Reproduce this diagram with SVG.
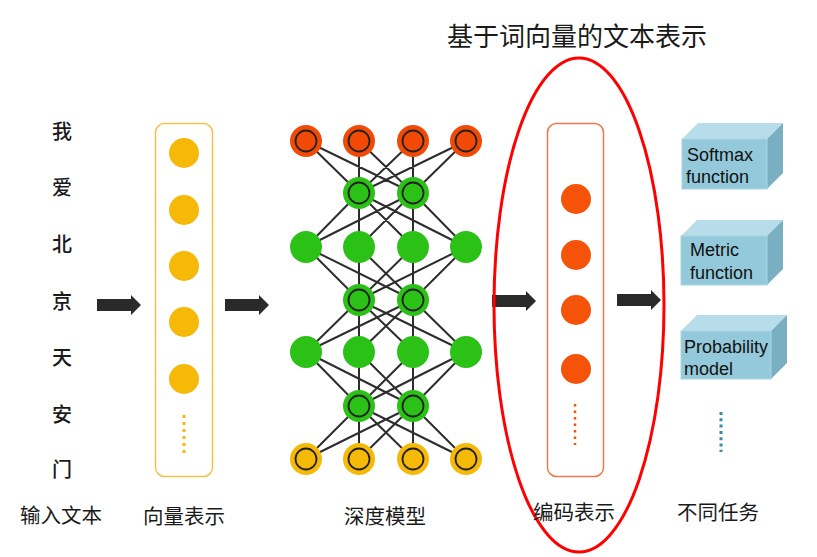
<svg xmlns="http://www.w3.org/2000/svg" width="817" height="557" viewBox="0 0 817 557">
<style>
.cjk{font-family:"Noto Sans CJK SC","Noto Sans",sans-serif;fill:#1a1a1a}
.word{font-size:20px;text-anchor:middle;font-weight:500}
.lbl{font-size:20.5px}
.en{font-family:"Liberation Sans",Arial,sans-serif;font-size:18px;fill:#111}
.red{fill:#F24A06}
.grn{fill:#2BC116}
.yel{fill:#F7B908}
.ring{fill:none;stroke:#222;stroke-width:1.8}
.edge{fill:none;stroke:#2d2d2d;stroke-width:2}
.arr{fill:#2a2a2a}
.front{fill:#93C9DB;stroke:#A9D6E4;stroke-width:1}
.top{fill:#B6DDE9}
.side{fill:#79AFC1}
</style>
<defs>
<path id="arrow" d="M0 -6 H34 V-10 L44 0 L34 10 V6 H0 Z"/>
<g id="ringnode"><circle r="16"/><circle r="10.5" class="ring"/></g>
</defs>
<rect width="817" height="557" fill="#fff"/>

<g id="title"><text class="cjk" x="577" y="46" font-size="26" text-anchor="middle">基于词向量的文本表示</text></g>

<g id="input-text">
<text class="cjk word" x="62" y="139">我</text>
<text class="cjk word" x="62" y="195">爱</text>
<text class="cjk word" x="62" y="252">北</text>
<text class="cjk word" x="62" y="309">京</text>
<text class="cjk word" x="62" y="365">天</text>
<text class="cjk word" x="62" y="422">安</text>
<text class="cjk word" x="62" y="477">门</text>
</g>

<g id="connectors">
<use href="#arrow" class="arr" x="97" y="305"/>
<use href="#arrow" class="arr" x="225" y="305"/>
<use href="#arrow" class="arr" x="492" y="301"/>
<use href="#arrow" class="arr" x="617" y="300"/>
<path class="edge" d="M306 141L359 193M306 141L413 193M359 141L359 193M359 141L413 193M413 141L359 193M413 141L413 193M466 141L359 193M466 141L413 193
M359 193L306 247M359 193L359 247M359 193L413 247M359 193L466 247M413 193L306 247M413 193L359 247M413 193L413 247M413 193L466 247
M306 247L359 300M306 247L413 300M359 247L359 300M359 247L413 300M413 247L359 300M413 247L413 300M466 247L359 300M466 247L413 300
M359 300L306 352M359 300L359 352M359 300L413 352M359 300L466 352M413 300L306 352M413 300L359 352M413 300L413 352M413 300L466 352
M306 352L359 406M306 352L413 406M359 352L359 406M359 352L413 406M413 352L359 406M413 352L413 406M466 352L359 406M466 352L413 406
M359 406L306 459M359 406L359 459M359 406L413 459M359 406L466 459M413 406L306 459M413 406L359 459M413 406L413 459M413 406L466 459"/>
</g>

<g id="vector-layer">
<rect x="155.5" y="123.5" width="57" height="353" rx="9" fill="none" stroke="#F8C24A" stroke-width="1.5"/>
<circle class="yel" cx="184" cy="153" r="15"/>
<circle class="yel" cx="184" cy="210" r="15"/>
<circle class="yel" cx="184" cy="266" r="15"/>
<circle class="yel" cx="184" cy="322" r="15"/>
<circle class="yel" cx="184" cy="379" r="15"/>
<line x1="184" y1="415" x2="184" y2="456" stroke="#F7B908" stroke-width="3" stroke-dasharray="3 4"/>
</g>

<g id="deep-model">
<use href="#ringnode" class="red" x="306" y="141"/>
<use href="#ringnode" class="red" x="359" y="141"/>
<use href="#ringnode" class="red" x="413" y="141"/>
<use href="#ringnode" class="red" x="466" y="141"/>
<use href="#ringnode" class="grn" x="359" y="193"/>
<use href="#ringnode" class="grn" x="413" y="193"/>
<circle class="grn" cx="306" cy="247" r="16"/>
<circle class="grn" cx="359" cy="247" r="16"/>
<circle class="grn" cx="413" cy="247" r="16"/>
<circle class="grn" cx="466" cy="247" r="16"/>
<use href="#ringnode" class="grn" x="359" y="300"/>
<use href="#ringnode" class="grn" x="413" y="300"/>
<circle class="grn" cx="306" cy="352" r="16"/>
<circle class="grn" cx="359" cy="352" r="16"/>
<circle class="grn" cx="413" cy="352" r="16"/>
<circle class="grn" cx="466" cy="352" r="16"/>
<use href="#ringnode" class="grn" x="359" y="406"/>
<use href="#ringnode" class="grn" x="413" y="406"/>
<use href="#ringnode" class="yel" x="306" y="459"/>
<use href="#ringnode" class="yel" x="359" y="459"/>
<use href="#ringnode" class="yel" x="413" y="459"/>
<use href="#ringnode" class="yel" x="466" y="459"/>
</g>

<g id="encoding-layer">
<rect x="547.5" y="123.5" width="56" height="353" rx="9" fill="none" stroke="#F0774E" stroke-width="1.5"/>
<circle cx="576" cy="199" r="15" fill="#F5530A"/>
<circle cx="576" cy="255" r="15" fill="#F5530A"/>
<circle cx="576" cy="310" r="15" fill="#F5530A"/>
<circle cx="576" cy="369" r="15" fill="#F5530A"/>
<line x1="575" y1="404" x2="575" y2="445" stroke="#F5530A" stroke-width="2.5" stroke-dasharray="2.5 4"/>
</g>

<g id="highlight-ellipse">
<ellipse cx="579" cy="305" rx="85" ry="247" fill="none" stroke="#FF0000" stroke-width="3"/>
</g>

<g id="softmax">
<path class="top" d="M682 139L698 123H783L767 139Z"/>
<path class="side" d="M767 139L783 123V173L767 189Z"/>
<rect class="front" x="682" y="139" width="85" height="50"/>
<text class="en" x="687" y="161">Softmax</text>
<text class="en" x="686" y="183">function</text>
</g>

<g id="metric">
<path class="top" d="M681 236L697 220H783L767 236Z"/>
<path class="side" d="M767 236L783 220V269L767 285Z"/>
<rect class="front" x="681" y="236" width="86" height="49"/>
<text class="en" x="690" y="256">Metric</text>
<text class="en" x="690" y="279">function</text>
</g>

<g id="probability">
<path class="top" d="M681 331L697 315H787L771 331Z"/>
<path class="side" d="M771 331L787 315V363L771 379Z"/>
<rect class="front" x="681" y="331" width="90" height="48"/>
<text class="en" x="684" y="353">Probability</text>
<text class="en" x="684" y="375">model</text>
</g>

<g id="more-tasks">
<line x1="721" y1="412" x2="721" y2="452" stroke="#3A8CA3" stroke-width="3" stroke-dasharray="3 3.3"/>
</g>

<g id="labels">
<text class="cjk lbl" x="20" y="523">输入文本</text>
<text class="cjk lbl" x="143" y="524">向量表示</text>
<text class="cjk lbl" x="344" y="524">深度模型</text>
<text class="cjk lbl" x="533" y="520">编码表示</text>
<text class="cjk lbl" x="677" y="520">不同任务</text>
</g>
</svg>
